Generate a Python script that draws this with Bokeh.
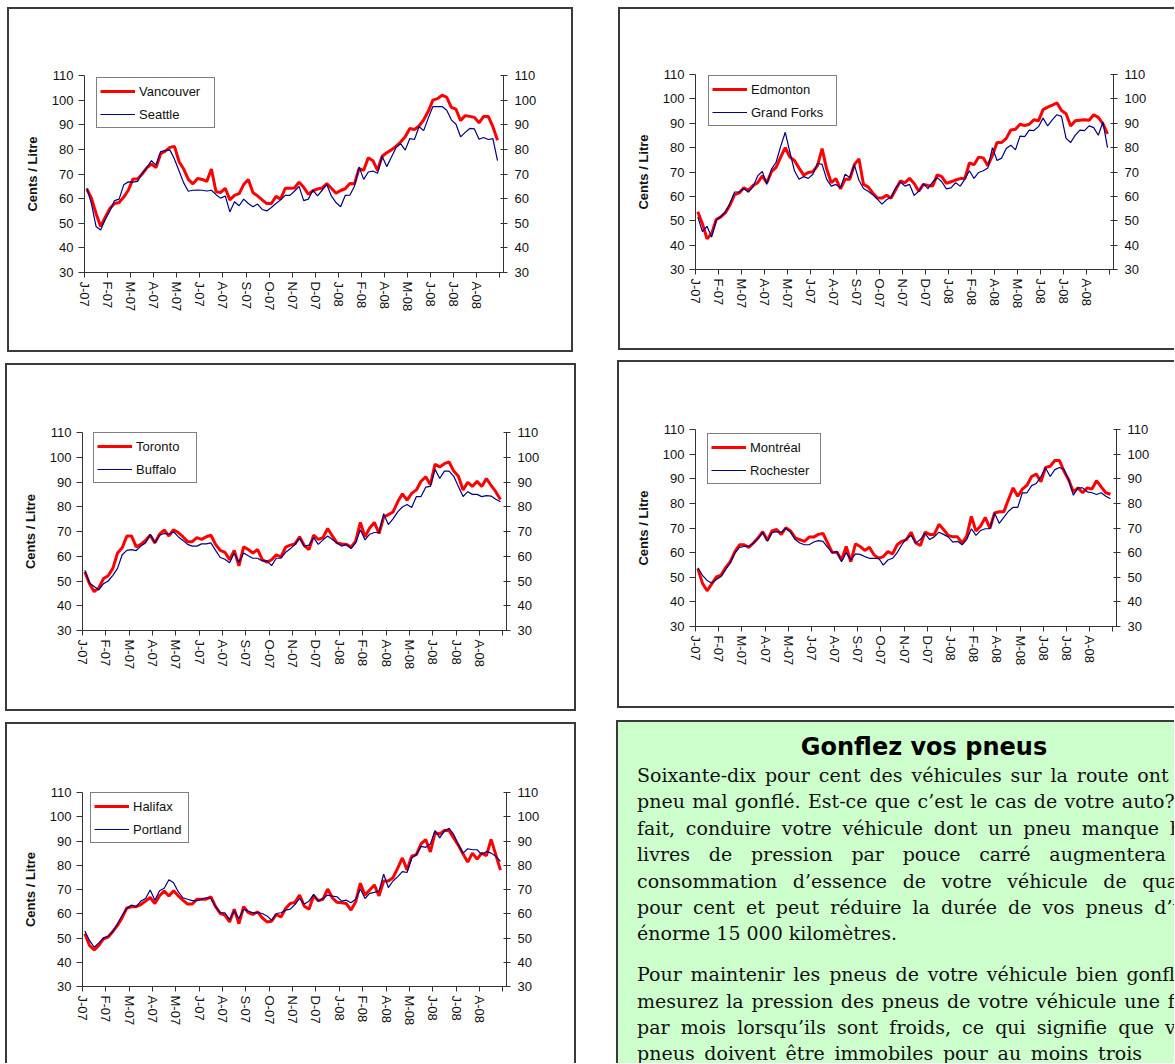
from bokeh.plotting import figure
from bokeh.models import Range1d, LinearAxis, FixedTicker, Legend, LegendItem, Spacer, Div
from bokeh.layouts import row, column
from bokeh.embed import file_html
from bokeh.resources import INLINE

# ---------------- data ----------------
tick_labels = ["J-07", "F-07", "M-07", "A-07", "M-07", "J-07", "A-07", "S-07", "O-07",
               "N-07", "D-07", "J-08", "F-08", "A-08", "M-08", "J-08", "J-08", "A-08"]
y_ticks = [30, 40, 50, 60, 70, 80, 90, 100, 110]

vancouver = [63.9, 60.2, 54.0, 48.7, 52.5, 56.0, 58.0, 58.4, 60.6, 63.4,
             68.0, 68.0, 70.0, 72.5, 74.0, 72.6, 78.2, 79.3, 80.8, 81.2,
             75.0, 72.0, 67.8, 66.0, 68.2, 67.8, 67.0, 72.0, 62.8, 62.5,
             64.2, 59.5, 61.3, 62.0, 65.7, 67.8, 62.5, 61.1, 59.5, 58.0,
             58.0, 60.9, 59.8, 64.2, 64.2, 64.3, 66.7, 64.6, 61.8, 63.2,
             63.9, 64.3, 66.1, 64.2, 62.2, 63.3, 64.0, 66.1, 66.0, 72.2,
             71.5, 76.6, 75.4, 71.5, 77.2, 78.6, 79.8, 81.2, 83.0, 85.1,
             88.5, 88.1, 89.5, 92.0, 95.5, 100.0, 100.6, 102.0, 101.1, 97.1,
             96.3, 91.7, 93.7, 93.4, 93.0, 90.8, 93.4, 93.4, 89.2, 83.7]
seattle = [64.3, 58.0, 48.7, 47.3, 51.5, 55.0, 59.2, 59.8, 65.6, 66.8,
           66.7, 67.0, 70.3, 72.6, 75.4, 73.6, 79.1, 79.5, 79.8, 76.0,
           71.2, 66.4, 63.0, 63.4, 63.5, 63.4, 63.1, 63.4, 61.6, 60.2,
           61.1, 54.6, 58.7, 57.1, 59.8, 58.0, 56.7, 57.8, 55.6, 55.0,
           56.4, 58.0, 59.5, 61.3, 61.3, 63.0, 65.0, 59.2, 59.8, 63.4,
           61.1, 63.4, 65.7, 61.1, 58.4, 56.7, 61.3, 61.4, 65.0, 72.9,
           67.8, 70.8, 71.2, 70.3, 77.2, 73.0, 76.8, 80.7, 82.3, 79.7,
           84.4, 84.0, 89.2, 87.6, 92.7, 97.4, 97.4, 97.4, 95.9, 92.0,
           90.2, 85.1, 86.9, 88.5, 88.3, 84.1, 84.8, 84.0, 84.4, 75.4]
edmonton = [53.7, 48.8, 42.6, 44.7, 50.5, 51.6, 53.3, 56.5, 60.7, 61.4,
            63.5, 62.5, 64.5, 65.6, 68.4, 65.6, 70.1, 71.9, 76.1, 80.0,
            76.1, 74.7, 71.6, 68.7, 69.8, 70.1, 72.6, 79.6, 71.2, 65.6,
            67.3, 63.1, 67.0, 67.0, 73.0, 75.4, 64.9, 63.9, 61.4, 59.3,
            59.3, 60.4, 59.3, 62.8, 66.3, 65.6, 67.4, 65.3, 62.1, 64.9,
            64.5, 64.2, 68.8, 68.1, 65.3, 66.0, 66.7, 67.3, 67.3, 73.7,
            73.0, 76.1, 75.8, 72.6, 76.8, 82.1, 82.1, 83.8, 87.2, 87.5,
            89.6, 89.1, 89.6, 91.4, 91.0, 95.6, 96.6, 97.4, 98.4, 95.2,
            93.9, 88.9, 91.0, 91.2, 91.4, 91.2, 93.5, 92.4, 89.8, 85.6]
grand_forks = [51.6, 45.6, 47.7, 43.3, 50.2, 51.6, 53.7, 57.2, 61.8, 61.8,
               63.2, 61.7, 63.9, 68.4, 70.2, 64.9, 71.2, 74.0, 80.5, 86.3,
               78.2, 70.5, 67.0, 68.1, 67.4, 69.1, 73.6, 73.1, 67.0, 64.2,
               64.9, 63.5, 69.1, 67.7, 73.0, 66.6, 63.2, 62.1, 60.7, 58.9,
               56.8, 58.6, 59.7, 63.5, 65.9, 64.2, 64.9, 60.4, 62.1, 65.2,
               63.2, 65.9, 67.7, 66.0, 63.1, 63.5, 65.6, 64.2, 67.0, 70.5,
               67.4, 69.8, 70.5, 71.6, 80.0, 74.7, 75.7, 79.6, 81.0, 79.1,
               84.7, 84.5, 87.2, 87.0, 88.6, 92.1, 88.9, 91.4, 93.5, 92.8,
               83.8, 82.1, 85.1, 87.2, 87.0, 88.9, 88.2, 85.1, 90.5, 80.0]
toronto = [53.7, 48.9, 45.7, 47.2, 51.0, 52.1, 55.1, 61.3, 63.4, 68.2,
           68.2, 63.8, 64.8, 66.4, 68.5, 65.4, 68.9, 70.6, 68.2, 70.7,
           69.6, 67.9, 65.9, 65.9, 67.5, 66.8, 67.9, 68.5, 64.8, 62.4,
           61.6, 58.6, 62.4, 56.1, 63.8, 62.7, 61.3, 62.7, 58.6, 57.6,
           58.6, 60.6, 59.7, 63.7, 64.5, 65.0, 67.9, 64.3, 62.7, 68.5,
           66.8, 67.5, 71.2, 68.2, 65.4, 65.0, 64.8, 63.7, 66.1, 73.7,
           67.9, 71.4, 73.7, 69.2, 75.8, 76.8, 77.9, 82.0, 85.2, 82.7,
           85.4, 86.8, 90.3, 92.1, 88.9, 97.2, 96.1, 97.4, 98.1, 94.4,
           92.3, 86.8, 89.9, 88.2, 90.3, 88.2, 91.4, 88.6, 86.1, 82.9]
buffalo = [54.4, 49.2, 47.8, 46.4, 48.9, 50.0, 52.3, 55.1, 60.6, 62.4,
           62.7, 62.3, 64.1, 65.4, 68.9, 65.4, 68.5, 69.2, 68.9, 69.9,
           67.9, 66.4, 64.8, 64.1, 64.1, 65.0, 65.0, 65.4, 62.4, 59.5,
           58.8, 57.4, 61.3, 57.6, 61.3, 60.2, 59.2, 59.2, 58.1, 58.1,
           56.2, 59.2, 59.2, 61.6, 63.0, 64.8, 67.2, 64.1, 64.5, 67.5,
           64.8, 66.6, 68.2, 66.8, 65.4, 64.1, 64.8, 63.1, 65.4, 70.7,
           66.6, 68.9, 69.6, 69.6, 77.2, 72.8, 75.1, 77.9, 79.9, 80.9,
           79.7, 84.1, 84.1, 87.9, 88.2, 95.1, 91.4, 94.4, 94.4, 92.3,
           88.2, 84.1, 86.1, 85.0, 85.0, 84.1, 84.5, 84.3, 83.0, 82.0]
montreal = [53.5, 47.6, 44.5, 47.3, 50.1, 50.8, 53.9, 56.3, 60.4, 63.2,
            63.2, 62.1, 63.9, 66.0, 68.5, 65.0, 68.8, 69.4, 67.4, 70.1,
            68.8, 66.0, 65.3, 64.6, 66.3, 66.3, 67.4, 67.8, 63.9, 60.0,
            60.2, 57.0, 62.5, 56.3, 63.6, 62.5, 60.9, 62.2, 59.1, 57.7,
            58.4, 60.4, 59.5, 63.2, 64.6, 65.3, 68.3, 63.9, 62.9, 68.3,
            67.4, 67.4, 71.5, 69.4, 67.0, 66.4, 66.4, 63.9, 66.7, 74.7,
            68.8, 70.8, 74.3, 69.9, 76.1, 76.6, 76.6, 81.6, 86.3, 82.9,
            85.8, 87.4, 90.9, 91.9, 88.8, 94.6, 95.1, 97.4, 97.4, 93.0,
            89.5, 84.7, 86.3, 84.3, 86.3, 85.8, 89.2, 86.7, 84.3, 83.7]
rochester = [53.8, 50.8, 48.7, 47.7, 49.1, 50.3, 53.1, 55.9, 59.8, 62.1,
             62.5, 62.5, 63.9, 65.7, 68.3, 64.6, 68.1, 68.5, 68.3, 69.9,
             68.3, 65.3, 63.9, 63.2, 63.2, 64.3, 64.9, 64.6, 62.1, 60.0,
             60.4, 56.3, 60.0, 57.0, 59.5, 59.3, 58.4, 57.7, 57.7, 57.7,
             54.9, 57.0, 57.7, 60.0, 63.2, 65.7, 67.0, 63.9, 65.3, 67.8,
             65.3, 66.4, 68.3, 67.4, 66.4, 64.3, 64.6, 63.2, 65.3, 69.7,
             67.0, 69.0, 69.7, 69.7, 76.1, 71.9, 74.3, 76.8, 78.4, 78.4,
             84.3, 84.3, 87.2, 88.1, 90.9, 94.4, 90.9, 93.7, 94.6, 93.7,
             89.5, 83.3, 86.3, 86.3, 84.7, 84.3, 83.6, 84.3, 82.9, 81.9]
halifax = [51.8, 46.9, 45.1, 46.9, 49.7, 50.4, 52.7, 55.2, 58.4, 62.4,
           62.9, 62.9, 63.8, 65.2, 66.7, 64.2, 67.4, 69.4, 67.3, 69.5,
           67.4, 65.6, 64.0, 64.0, 66.0, 66.0, 66.0, 67.0, 62.9, 60.1,
           59.4, 56.6, 61.9, 55.9, 62.9, 60.5, 59.7, 60.8, 58.3, 56.6,
           56.9, 59.7, 58.7, 62.2, 64.2, 64.7, 67.7, 63.1, 61.9, 67.4,
           65.4, 66.0, 70.2, 66.6, 64.7, 64.5, 64.2, 61.5, 64.9, 72.6,
           67.7, 69.8, 71.9, 67.4, 73.5, 73.5, 74.9, 78.8, 83.0, 78.1,
           83.7, 84.4, 88.8, 90.6, 85.5, 93.4, 92.9, 94.3, 94.3, 91.3,
           88.2, 84.6, 81.3, 85.0, 82.5, 85.0, 84.0, 90.6, 84.4, 78.0]
portland = [52.9, 49.0, 46.2, 48.0, 50.0, 50.7, 52.7, 55.9, 59.4, 62.2,
            63.6, 62.9, 65.2, 66.3, 69.8, 65.6, 69.5, 70.5, 74.0, 72.8,
            69.1, 66.6, 66.0, 65.4, 65.4, 66.0, 66.6, 66.3, 62.9, 60.5,
            60.4, 57.6, 61.2, 58.0, 61.9, 61.1, 60.4, 60.5, 60.1, 59.1,
            57.3, 60.1, 60.4, 61.5, 61.9, 63.8, 66.3, 64.0, 65.2, 68.0,
            65.2, 66.3, 67.7, 67.3, 67.0, 65.2, 65.6, 64.5, 66.0, 70.2,
            66.3, 68.4, 68.8, 69.4, 76.3, 70.8, 73.5, 75.3, 77.4, 77.0,
            83.0, 84.4, 87.8, 87.4, 88.8, 94.3, 91.3, 94.1, 95.2, 92.7,
            88.5, 85.0, 86.8, 86.4, 86.4, 84.4, 85.7, 85.0, 83.7, 81.6]

title_text = "Gonflez vos pneus"
para1 = [
    "Soixante-dix pour cent des véhicules sur la route ont un",
    "pneu mal gonflé. Est-ce que c’est le cas de votre auto? En",
    "fait, conduire votre véhicule dont un pneu manque huit",
    "livres de pression par pouce carré augmentera la",
    "consommation d’essence de votre véhicule de quatre",
    "pour cent et peut réduire la durée de vos pneus d’un",
    "énorme 15 000 kilomètres.",
]
para2 = [
    "Pour maintenir les pneus de votre véhicule bien gonflés,",
    "mesurez la pression des pneus de votre véhicule une fois",
    "par mois lorsqu’ils sont froids, ce qui signifie que vos",
    "pneus doivent être immobiles pour au moins trois",
]
para1_widths = [565, 571, 571, 565, 569, 560, 560]
para2_widths = [565, 565, 560, 505]

FONT = "Liberation Sans"
AX = "#333333"
TXT = "#111111"
BORDER = "2px solid #3a3a3a"


def make_chart(w, h, frame, names, series, leg_off, label_w, sides):
    fl, fr, ft, fb = frame
    st = {"box-sizing": "content-box"}
    for s in ("left", "top", "right", "bottom"):
        st["border-" + s] = BORDER if s in sides else "none"
    p = figure(width=w, height=h, x_range=Range1d(0, 90.8), y_range=Range1d(30, 110),
               output_backend="svg", toolbar_location=None,
               min_border_left=fl, min_border_right=w - fr,
               min_border_top=ft, min_border_bottom=h - fb,
               background_fill_color="white", border_fill_color="white",
               outline_line_color=None, styles=st)
    p.grid.visible = False
    xs = [i + 0.5 for i in range(len(series[0]))]
    r1 = p.line(xs, series[0], line_color="#FF0000", line_width=3)
    r2 = p.line(xs, series[1], line_color="#000080", line_width=1.2)

    yl = p.yaxis[0]
    yl.ticker = FixedTicker(ticks=y_ticks)
    yl.axis_label = "Cents / Litre"
    yl.axis_label_text_font = FONT
    yl.axis_label_text_font_size = "13px"
    yl.axis_label_text_font_style = "bold"
    yl.axis_label_text_color = TXT
    yl.axis_label_standoff = 9

    p.extra_y_ranges = {"right": Range1d(30, 110)}
    ra = LinearAxis(y_range_name="right", ticker=FixedTicker(ticks=y_ticks))
    p.add_layout(ra, "right")

    xa = p.xaxis[0]
    xt = list(range(0, 91, 5))
    xa.ticker = FixedTicker(ticks=xt)
    xa.major_label_overrides = {t: (tick_labels[k] if k < len(tick_labels) else "")
                                for k, t in enumerate(xt)}
    xa.major_label_orientation = "vertical"

    for ax in (yl, ra, xa):
        ax.axis_line_color = AX
        ax.major_tick_line_color = AX
        ax.minor_tick_line_color = None
        ax.major_label_text_font = FONT
        ax.major_label_text_font_size = "13px"
        ax.major_label_text_color = TXT
    yl.major_tick_out, yl.major_tick_in, yl.major_label_standoff = 6, 0, 5
    ra.major_tick_out, ra.major_tick_in, ra.major_label_standoff = 4, 3, 7
    xa.major_tick_out, xa.major_tick_in, xa.major_label_standoff = 5, 0, 4

    frame_h = fb - ft
    leg_h = 2 * 20 + 3 + 2 * 3
    leg = Legend(items=[LegendItem(label=names[0], renderers=[r1]),
                        LegendItem(label=names[1], renderers=[r2])],
                 location=(leg_off[0], frame_h - leg_off[1] - leg_h),
                 border_line_color="black", border_line_width=1,
                 background_fill_color="white", background_fill_alpha=1.0,
                 padding=3, spacing=3, margin=0, glyph_width=35, glyph_height=20,
                 label_height=20, label_width=label_w, label_standoff=4,
                 label_text_font=FONT, label_text_font_size="13px", label_text_color=TXT)
    p.add_layout(leg)
    return p


ALL = ("left", "top", "right", "bottom")
f1 = make_chart(562, 341, (75, 490, 66, 259), ("Vancouver", "Seattle"), (vancouver, seattle),
                (12, 0), 72, ALL)
f3 = make_chart(567, 344, (75, 495, 67, 261), ("Toronto", "Buffalo"), (toronto, buffalo),
                (11, -2), 57, ALL)
f5 = make_chart(567, 339, (75, 495, 68, 260), ("Halifax", "Portland"), (halifax, portland),
                (8, 0), 52, ("left", "top", "right"))
f2 = make_chart(554, 339, (75, 491, 65, 256), ("Edmonton", "Grand Forks"), (edmonton, grand_forks),
                (13, -1), 82, ("left", "top", "bottom"))
f4 = make_chart(555, 344, (76, 495, 67, 260), ("Montréal", "Rochester"), (montreal, rochester),
                (12, 2), 67, ("left", "top", "bottom"))

# ---------------- text box (HTML) ----------------
LH = 26.4


def line_div(txt, width, justify):
    al = "text-align:justify;text-align-last:justify;" if justify else "text-align:left;"
    return f'<div style="{al}white-space:nowrap;width:{width}px;height:{LH}px;">{txt}</div>'


body = "".join(line_div(t, wd, i < len(para1) - 1)
               for i, (t, wd) in enumerate(zip(para1, para1_widths)))
body += '<div style="height:14.5px;"></div>'
body += "".join(line_div(t, wd, True) for t, wd in zip(para2, para2_widths))

html = (
    '<div style="position:relative;width:640px;height:420px;background:#CCFFCC;'
    'border-left:2px solid #3a3a3a;border-top:2px solid #3a3a3a;box-sizing:border-box;">'
    '<div style="position:absolute;left:0;top:11px;width:612px;text-align:center;'
    "font-family:'DejaVu Sans';font-weight:bold;font-size:24px;line-height:28px;color:#000;\">"
    + title_text + '</div>'
    f'<div style="position:absolute;left:19px;top:40px;width:600px;'
    f"font-family:'DejaVu Serif';font-size:19px;line-height:{LH}px;color:#111;\">"
    + body + '</div></div>'
)
tdiv = Div(text=html, width=558, height=343, margin=0, styles={"overflow": "hidden"})

left_col = column(
    Spacer(width=576, height=7),
    row(Spacer(width=7, height=345), f1),
    Spacer(width=576, height=11),
    row(Spacer(width=5, height=348), f3),
    Spacer(width=576, height=11),
    row(Spacer(width=5, height=341), f5),
)
right_col = column(
    Spacer(width=558, height=7),
    row(Spacer(width=2, height=343), f2),
    Spacer(width=558, height=10),
    row(Spacer(width=1, height=348), f4),
    Spacer(width=558, height=12),
    tdiv,
)
layout = row(left_col, Spacer(width=40, height=1063), right_col)

open("out.html", "w").write(file_html(layout, INLINE))
